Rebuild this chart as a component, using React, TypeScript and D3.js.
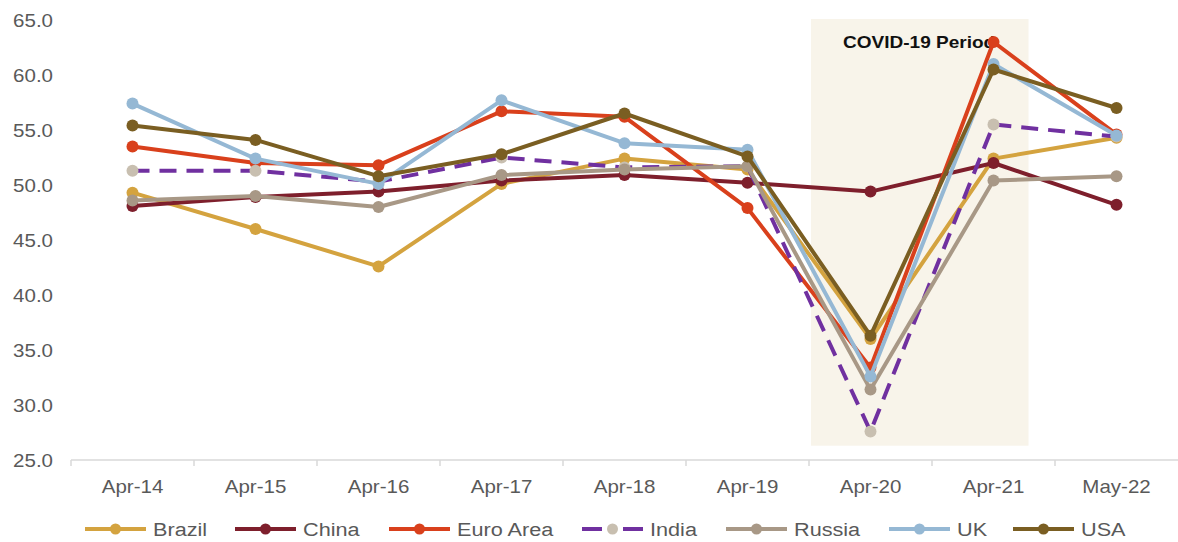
import React from "react";
import * as d3 from "d3";

const categories = ["Apr-14", "Apr-15", "Apr-16", "Apr-17", "Apr-18", "Apr-19", "Apr-20", "Apr-21", "May-22"];
const yTicks = [25, 30, 35, 40, 45, 50, 55, 60, 65];

const brazil = [49.3, 46.0, 42.6, 50.1, 52.4, 51.4, 36.0, 52.4, 54.3];
const china = [48.1, 48.9, 49.4, 50.4, 50.9, 50.2, 49.4, 52.0, 48.2];
const euroArea = [53.5, 52.0, 51.8, 56.7, 56.2, 47.9, 33.4, 63.0, 54.6];
const india = [51.3, 51.3, 50.3, 52.5, 51.6, 51.7, 27.6, 55.5, 54.4];
const russia = [48.6, 49.0, 48.0, 50.9, 51.4, 51.7, 31.4, 50.4, 50.8];
const uk = [57.4, 52.4, 50.1, 57.7, 53.8, 53.2, 32.6, 61.0, 54.5];
const usa = [55.4, 54.1, 50.8, 52.8, 56.5, 52.6, 36.3, 60.5, 57.0];

const series = [
  { name: "Brazil", values: brazil, color: "#D4A33F", marker: "#D4A33F", dash: "" },
  { name: "China", values: china, color: "#7E1F2C", marker: "#7E1F2C", dash: "" },
  { name: "Euro Area", values: euroArea, color: "#D9401C", marker: "#D9401C", dash: "" },
  { name: "India", values: india, color: "#7030A0", marker: "#C8BFB0", dash: "17,10" },
  { name: "Russia", values: russia, color: "#A89886", marker: "#A89886", dash: "" },
  { name: "UK", values: uk, color: "#95B8D4", marker: "#95B8D4", dash: "" },
  { name: "USA", values: usa, color: "#7A5E22", marker: "#7A5E22", dash: "" },
];

const legendX = [85, 235, 389, 582, 726, 889, 1013];

export default function App() {
  const W = 1178, H = 542;
  const x = d3.scaleBand<string>().domain(categories).range([71, 1178]);
  const y = d3.scaleLinear().domain([25, 65]).range([460, 20]);
  const bw = x.bandwidth();
  const cx = (c: string) => (x(c) as number) + bw / 2;
  const line = d3
    .line<number>()
    .x((_, i) => cx(categories[i]))
    .y((d) => y(d));
  const font = "'Liberation Sans', Arial, sans-serif";
  const sx = 1.14;
  const shadeX0 = (x("Apr-20") as number) + 2;
  const shadeX1 = cx("Apr-21") + 35;
  return (
    <svg width={W} height={H} style={{ position: "absolute", left: 0, top: 0, background: "#fff" }}>
      <rect x={shadeX0} y={y(65) - 1} width={shadeX1 - shadeX0} height={y(26.3) - y(65) + 1} fill="#F8F4EA" />
      <text
        transform={`translate(${shadeX0 + 32},48) scale(1.12,1)`}
        fontFamily={font}
        fontWeight="bold"
        fontSize={17}
        fill="#111"
      >
        COVID-19 Period
      </text>
      {/* y labels */}
      {yTicks.map((t) => (
        <text
          key={t}
          transform={`translate(53,${y(t) + 6.5}) scale(${sx},1)`}
          textAnchor="end"
          fontFamily={font}
          fontSize={18}
          fill="#595959"
        >
          {t.toFixed(1)}
        </text>
      ))}
      {/* x axis */}
      <line x1={71} x2={1178} y1={460} y2={460} stroke="#D9D9D9" strokeWidth={1.5} />
      {categories.map((c) => (
        <line key={c} x1={x(c) as number} x2={x(c) as number} y1={460} y2={466} stroke="#D9D9D9" strokeWidth={1.5} />
      ))}
      {categories.map((c) => (
        <text
          key={c}
          transform={`translate(${cx(c)},${493}) scale(${sx},1)`}
          textAnchor="middle"
          fontFamily={font}
          fontSize={18}
          fill="#595959"
        >
          {c}
        </text>
      ))}
      {/* series */}
      {series.map((s) => (
        <g key={s.name}>
          <path
            d={line(s.values) as string}
            fill="none"
            stroke={s.color}
            strokeWidth={4}
            strokeDasharray={s.dash || undefined}
            strokeLinejoin="round"
          />
          {s.values.map((v, i) => (
            <circle key={i} cx={cx(categories[i])} cy={y(v)} r={6} fill={s.marker} />
          ))}
        </g>
      ))}
      {/* legend */}
      {series.map((s, i) => {
        const lx = legendX[i];
        const ly = 529;
        return (
          <g key={s.name}>
            {s.dash ? (
              <>
                <line x1={lx} x2={lx + 20} y1={ly} y2={ly} stroke={s.color} strokeWidth={4} />
                <line x1={lx + 41} x2={lx + 61} y1={ly} y2={ly} stroke={s.color} strokeWidth={4} />
              </>
            ) : (
              <line x1={lx} x2={lx + 61} y1={ly} y2={ly} stroke={s.color} strokeWidth={4} />
            )}
            <circle cx={lx + 30.5} cy={ly} r={5.5} fill={s.marker} />
            <text
              transform={`translate(${lx + 68},${ly + 7}) scale(${sx},1)`}
              fontFamily={font}
              fontSize={19}
              fill="#595959"
            >
              {s.name}
            </text>
          </g>
        );
      })}
    </svg>
  );
}
